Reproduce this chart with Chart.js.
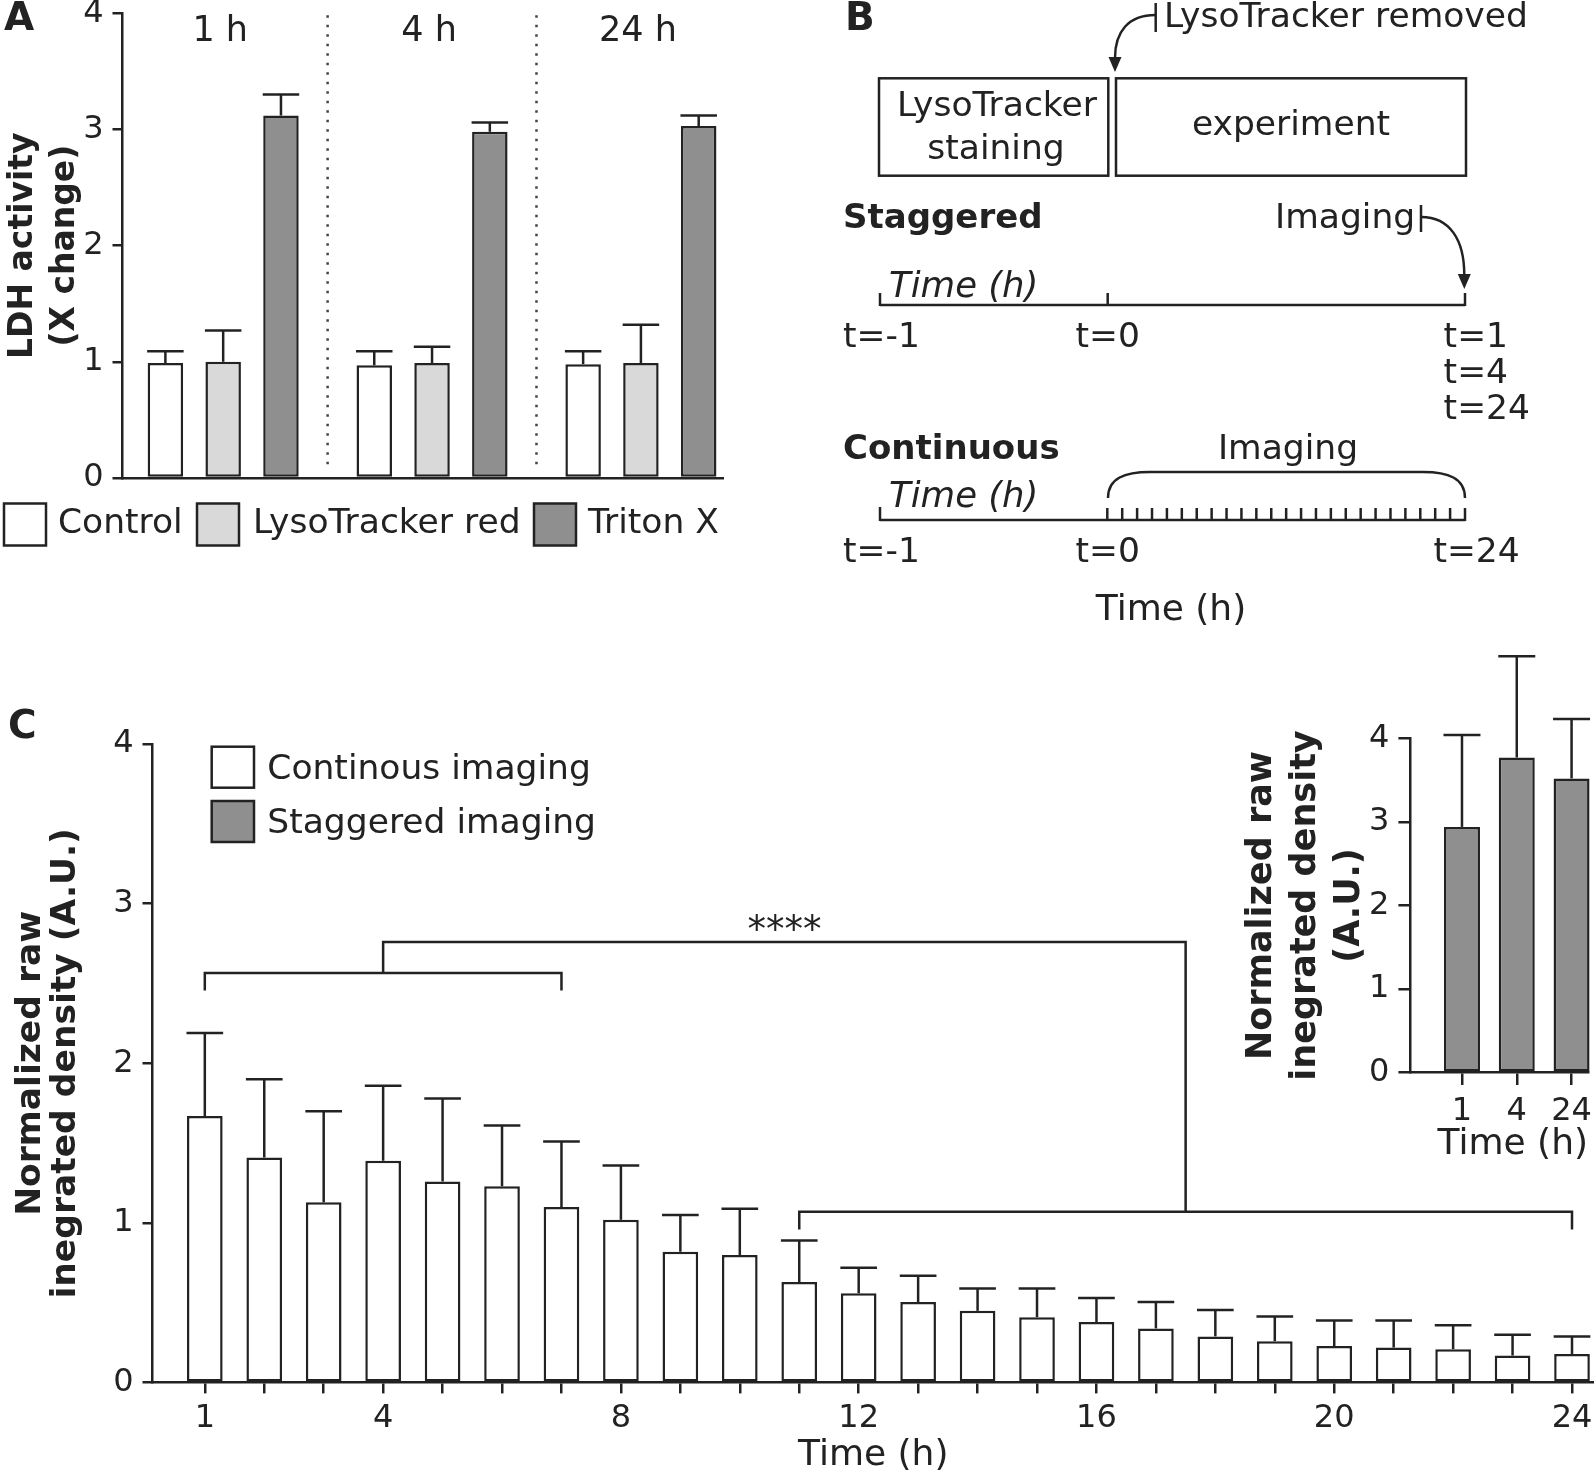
<!DOCTYPE html>
<html>
<head>
<meta charset="utf-8">
<script src="https://cdn.jsdelivr.net/npm/chart.js@4.4.1/dist/chart.umd.min.js"></script>
<style>
  html, body { margin: 0; padding: 0; background: #fff; }
  #page { position: relative; width: 1594px; height: 1472px; overflow: hidden; }
  canvas { position: absolute; }
</style>
</head>
<body>
<div id="page">
  <canvas id="panelA" width="760" height="570" style="left:0px;top:0px"></canvas>
  <canvas id="panelB" width="774" height="640" style="left:820px;top:0px"></canvas>
  <canvas id="panelC" width="1594" height="780" style="left:0px;top:700px"></canvas>
  <canvas id="inset" width="364" height="530" style="left:1230px;top:640px"></canvas>
</div>
<script>
// ---- data ----
var ldhGroups = ["1 h", "4 h", "24 h"];
var ldhSeries = ["Control", "LysoTracker red", "Triton X"];
var ldhControl = [0.99, 0.97, 0.98];
var ldhControlErr = [0.10, 0.12, 0.11];
var ldhLyso = [1.00, 0.99, 0.99];
var ldhLysoErr = [0.27, 0.14, 0.33];
var ldhTriton = [3.12, 2.98, 3.03];
var ldhTritonErr = [0.18, 0.08, 0.09];

var hours = [1, 2, 3, 4, 5, 6, 7, 8, 9, 10, 11, 12, 13, 14, 15, 16, 17, 18, 19, 20, 21, 22, 23, 24];
var hourLabels = [1, 4, 8, 12, 16, 20, 24];
var continuous = [1.67, 1.41, 1.13, 1.39, 1.26, 1.23, 1.10, 1.02, 0.82, 0.80, 0.63, 0.56,
                  0.505, 0.45, 0.41, 0.38, 0.34, 0.29, 0.26, 0.23, 0.22, 0.21, 0.17, 0.18];
var continuousErr = [0.52, 0.49, 0.57, 0.47, 0.52, 0.38, 0.41, 0.34, 0.23, 0.29, 0.26, 0.16,
                     0.165, 0.14, 0.18, 0.15, 0.165, 0.165, 0.155, 0.16, 0.17, 0.15, 0.13, 0.11];

var insetHours = ["1", "4", "24"];
var staggered = [2.94, 3.77, 3.52];
var staggeredErr = [1.10, 1.21, 0.71];

var yTicks = [0, 1, 2, 3, 4];
var legendC = ["Continous imaging", "Staggered imaging"];
// significance: first hours vs later hours
var bracketEarly = [1, 7];
var bracketLate = [11, 24];
var sigLabel = "****";

// ---- style ----
var ink = "#222222";
var white = "#ffffff";
var light = "#d9d9d9";
var dark = "#8f8f8f";
var FONT = '"DejaVu Sans"';
Chart.defaults.font.family = FONT;
Chart.defaults.color = ink;

function fixWidth(w) {
  return function (s) { s.width = w; s.paddingTop = 0; s.paddingBottom = 0; s.paddingLeft = 0; s.paddingRight = 0; };
}
function fixHeight(h) {
  return function (s) { s.height = h; s.paddingTop = 0; s.paddingBottom = 0; s.paddingLeft = 0; s.paddingRight = 0; };
}
function setTicks(list) {
  return function (s) { s.ticks = list.map(function (v) { return { value: v }; }); };
}
function pts(xs, ys) {
  return ys.map(function (v, i) { return { x: xs[i], y: v }; });
}
function txt(ctx, s, x, y, font, align) {
  ctx.font = font;
  ctx.textAlign = align || "left";
  ctx.textBaseline = "middle";
  ctx.fillStyle = ink;
  ctx.fillText(s, x, y);
}
function seg(ctx, x1, y1, x2, y2) {
  ctx.beginPath(); ctx.moveTo(x1, y1); ctx.lineTo(x2, y2); ctx.stroke();
}
function arrowDown(ctx, x, y) {
  ctx.beginPath(); ctx.moveTo(x, y); ctx.lineTo(x - 6.5, y - 15); ctx.lineTo(x + 6.5, y - 15); ctx.closePath(); ctx.fill();
}
function yAxis(title, size, lh, pad, width) {
  return {
    min: 0, max: 4,
    afterBuildTicks: setTicks(yTicks),
    ticks: { font: { size: 32 }, color: ink, padding: 9 },
    grid: { drawOnChartArea: false, color: ink, lineWidth: 2.5, tickLength: 10 },
    border: { color: ink, width: 2.5 },
    title: { display: true, text: title, color: ink, font: { size: size, weight: "bold", lineHeight: lh }, padding: { top: pad, bottom: 0 } },
    afterFit: fixWidth(width)
  };
}

var errorBars = {
  id: "errorBars",
  afterDatasetsDraw: function (chart) {
    var ctx = chart.ctx, y = chart.scales.y;
    ctx.save();
    ctx.strokeStyle = ink; ctx.lineWidth = 2.5;
    chart.data.datasets.forEach(function (ds, i) {
      if (!ds.errors) return;
      chart.getDatasetMeta(i).data.forEach(function (bar, j) {
        var top = y.getPixelForValue(ds.data[j].y + ds.errors[j]);
        var half = bar.width / 2 + 0.5;
        seg(ctx, bar.x, bar.y, bar.x, top);
        seg(ctx, bar.x - half, top, bar.x + half, top);
      });
    });
    ctx.restore();
  }
};

// ---- panel A ----
var groupX = ldhGroups.map(function (g, i) { return i + 1; });
var panelADecor = {
  id: "panelADecor",
  afterDraw: function (chart) {
    var ctx = chart.ctx, x = chart.scales.x, area = chart.chartArea;
    ctx.save();
    txt(ctx, "A", 4, 20, "bold 39px " + FONT);
    ldhGroups.forEach(function (g, i) {
      txt(ctx, g, x.getPixelForValue(groupX[i]) - 3, 32, "35px " + FONT, "center");
    });
    ctx.strokeStyle = "#444"; ctx.lineWidth = 2.5; ctx.setLineDash([2.5, 7]);
    for (var i = 0; i < ldhGroups.length - 1; i++) {
      var px = x.getPixelForValue(groupX[i] + 0.5);
      seg(ctx, px, area.top + 2, px, area.bottom - 8);
    }
    ctx.setLineDash([]);
    // legend
    var boxX = [4, 197, 534], textX = [58, 253, 588];
    ctx.strokeStyle = ink; ctx.lineWidth = 2.5;
    chart.data.datasets.forEach(function (ds, i) {
      ctx.fillStyle = ds.backgroundColor;
      ctx.fillRect(boxX[i], 503.5, 42, 42);
      ctx.strokeRect(boxX[i], 503.5, 42, 42);
      txt(ctx, ds.label, textX[i], 524, "34.5px " + FONT);
    });
    ctx.restore();
  }
};

new Chart(document.getElementById("panelA"), {
  type: "bar",
  data: {
    datasets: [
      { label: ldhSeries[0], data: pts(groupX, ldhControl), errors: ldhControlErr, backgroundColor: white },
      { label: ldhSeries[1], data: pts(groupX, ldhLyso), errors: ldhLysoErr, backgroundColor: light },
      { label: ldhSeries[2], data: pts(groupX, ldhTriton), errors: ldhTritonErr, backgroundColor: dark }
    ]
  },
  options: {
    responsive: false, animation: false,
    layout: { padding: { top: 13.3, right: 37, bottom: 0, left: 0 } },
    plugins: { legend: { display: false }, tooltip: { enabled: false } },
    datasets: { bar: { borderColor: ink, borderWidth: 2.5, borderSkipped: false, categoryPercentage: 0.83, barPercentage: 0.614 } },
    scales: {
      x: {
        type: "linear", offset: false, min: 0.518, max: 3.393,
        afterBuildTicks: setTicks(groupX),
        ticks: { display: false }, grid: { display: false, offset: false },
        border: { color: ink, width: 2.5 },
        afterFit: fixHeight(92)
      },
      y: yAxis(["LDH activity", "(X change)"], 33, 1.29, 2, 122.5)
    }
  },
  plugins: [errorBars, panelADecor]
});

// ---- panel B (schematic) ----
var schematic = {
  id: "schematic",
  afterDraw: function (chart) {
    var ctx = chart.ctx;
    var reg = "34.5px " + FONT, bold = "bold 34px " + FONT, ital = "italic 35.5px " + FONT;
    ctx.save();
    ctx.translate(-820, 0);
    ctx.strokeStyle = ink; ctx.fillStyle = ink; ctx.lineWidth = 2.5;
    txt(ctx, "B", 845, 20, "bold 39px " + FONT);

    seg(ctx, 1155.7, 3, 1155.7, 32);
    ctx.beginPath(); ctx.moveTo(1155.7, 15); ctx.bezierCurveTo(1128, 15, 1115, 32, 1115, 58); ctx.stroke();
    arrowDown(ctx, 1115, 72);
    txt(ctx, "LysoTracker removed", 1164, 18, reg);

    ctx.strokeRect(879, 78.3, 229.3, 97.4);
    ctx.strokeRect(1116, 78.3, 350, 97.4);
    txt(ctx, "LysoTracker", 997, 107, reg, "center");
    txt(ctx, "staining", 996, 150, reg, "center");
    txt(ctx, "experiment", 1291, 126, reg, "center");

    // staggered
    txt(ctx, "Staggered", 843, 219.5, bold);
    txt(ctx, "Imaging", 1275, 219.5, reg);
    seg(ctx, 1421, 205, 1421, 232);
    ctx.beginPath(); ctx.moveTo(1421, 217); ctx.bezierCurveTo(1450, 217, 1464.3, 240, 1464.3, 275); ctx.stroke();
    arrowDown(ctx, 1464.3, 289);
    seg(ctx, 880, 305, 1465, 305);
    [880, 1107.7, 1465].forEach(function (px) { seg(ctx, px, 306, px, 293); });
    txt(ctx, "Time (h)", 889, 287.5, ital);
    txt(ctx, "t=-1", 843, 338.5, reg);
    txt(ctx, "t=0", 1075.5, 338.5, reg);
    txt(ctx, "t=1", 1443.6, 338.5, reg);
    txt(ctx, "t=4", 1443.6, 374, reg);
    txt(ctx, "t=24", 1443.6, 410.5, reg);

    // continuous
    txt(ctx, "Continuous", 843, 450, bold);
    txt(ctx, "Imaging", 1288, 450, reg, "center");
    ctx.beginPath();
    ctx.moveTo(1108, 498);
    ctx.bezierCurveTo(1108, 478, 1125, 472, 1150, 472);
    ctx.lineTo(1423, 472);
    ctx.bezierCurveTo(1448, 472, 1465, 478, 1465, 498);
    ctx.stroke();
    seg(ctx, 880, 520, 1465, 520);
    seg(ctx, 880, 521, 880, 507);
    for (var i = 0; i <= 24; i++) {
      var px = 1107.3 + i * (1465 - 1107.3) / 24;
      seg(ctx, px, 521, px, 508);
    }
    txt(ctx, "Time (h)", 889, 498, ital);
    txt(ctx, "t=-1", 843, 553, reg);
    txt(ctx, "t=0", 1075.5, 553, reg);
    txt(ctx, "t=24", 1433.4, 553, reg);
    txt(ctx, "Time (h)", 1171, 611, "36px " + FONT, "center");
    ctx.restore();
  }
};

new Chart(document.getElementById("panelB"), {
  type: "scatter",
  data: { datasets: [] },
  options: {
    responsive: false, animation: false,
    plugins: { legend: { display: false }, tooltip: { enabled: false } },
    scales: { x: { display: false }, y: { display: false } }
  },
  plugins: [schematic]
});

// ---- panel C main ----
var panelCDecor = {
  id: "panelCDecor",
  afterDraw: function (chart) {
    var ctx = chart.ctx, x = chart.scales.x, y = chart.scales.y;
    ctx.save();
    txt(ctx, "C", 8, 28, "bold 39px " + FONT);
    // legend
    var fills = [white, dark], rows = [46.7, 101];
    ctx.strokeStyle = ink; ctx.lineWidth = 2.5;
    legendC.forEach(function (name, i) {
      ctx.fillStyle = fills[i];
      ctx.fillRect(211.7, rows[i], 42.3, 41);
      ctx.strokeRect(211.7, rows[i], 42.3, 41);
      txt(ctx, name, 267.3, rows[i] + 23, "34.5px " + FONT);
    });
    // brackets
    function bracket(range, level, legDrop) {
      var a = x.getPixelForValue(range[0]), b = x.getPixelForValue(range[1]);
      var yy = y.getPixelForValue(level), yl = y.getPixelForValue(level - legDrop);
      ctx.beginPath();
      ctx.moveTo(a, yl); ctx.lineTo(a, yy); ctx.lineTo(b, yy); ctx.lineTo(b, yl);
      ctx.stroke();
    }
    bracket(bracketEarly, 2.566, 0.11);
    bracket(bracketLate, 1.07, 0.11);
    var midE = (bracketEarly[0] + bracketEarly[1]) / 2;
    var midL = (bracketLate[0] + bracketLate[1]) / 2;
    var topY = y.getPixelForValue(2.76);
    ctx.beginPath();
    ctx.moveTo(x.getPixelForValue(midE), y.getPixelForValue(2.566));
    ctx.lineTo(x.getPixelForValue(midE), topY);
    ctx.lineTo(x.getPixelForValue(midL), topY);
    ctx.lineTo(x.getPixelForValue(midL), y.getPixelForValue(1.07));
    ctx.stroke();
    txt(ctx, sigLabel, x.getPixelForValue((midE + midL) / 2), y.getPixelForValue(2.82), "37px " + FONT, "center");
    ctx.restore();
  }
};

new Chart(document.getElementById("panelC"), {
  type: "bar",
  data: {
    datasets: [
      { label: legendC[0], data: pts(hours, continuous), errors: continuousErr, backgroundColor: white }
    ]
  },
  options: {
    responsive: false, animation: false,
    layout: { padding: { top: 44, right: 0, bottom: 0, left: 0 } },
    plugins: { legend: { display: false }, tooltip: { enabled: false } },
    datasets: { bar: { borderColor: ink, borderWidth: 2.5, borderSkipped: false, categoryPercentage: 1, barPercentage: 0.6 } },
    scales: {
      x: {
        type: "linear", offset: false, min: 0.12, max: 24.37,
        afterBuildTicks: setTicks(hours),
        ticks: {
          autoSkip: false, maxRotation: 0, font: { size: 32 }, color: ink, padding: 6,
          callback: function (v) { return hourLabels.indexOf(v) >= 0 ? String(v) : ""; }
        },
        grid: { offset: false, drawOnChartArea: false, color: ink, lineWidth: 2.5, tickLength: 10.7 },
        border: { color: ink, width: 2.5 },
        title: { display: true, text: "Time (h)", color: ink, font: { size: 36 }, padding: { top: 0, bottom: 3 } },
        afterFit: fixHeight(97.3)
      },
      y: yAxis(["Normalized raw", "inegrated density (A.U.)"], 34.5, 1.03, 13, 152.5)
    }
  },
  plugins: [errorBars, panelCDecor]
});

// ---- panel C inset ----
var insetX = insetHours.map(function (h, i) { return i + 1; });
new Chart(document.getElementById("inset"), {
  type: "bar",
  data: {
    datasets: [
      { label: legendC[1], data: pts(insetX, staggered), errors: staggeredErr, backgroundColor: dark, clip: false }
    ]
  },
  options: {
    responsive: false, animation: false,
    layout: { padding: { top: 98.3, right: 6, bottom: 0, left: 0 } },
    plugins: { legend: { display: false }, tooltip: { enabled: false } },
    datasets: { bar: { borderColor: ink, borderWidth: 2.5, borderSkipped: false, categoryPercentage: 1, barPercentage: 0.657 } },
    scales: {
      x: {
        type: "linear", offset: false, min: 0.064, max: 3.3,
        afterBuildTicks: setTicks(insetX),
        ticks: {
          autoSkip: false, maxRotation: 0, font: { size: 32 }, color: ink, padding: 7,
          callback: function (v) { return insetHours[v - 1]; }
        },
        grid: { offset: false, drawOnChartArea: false, color: ink, lineWidth: 2.5, tickLength: 12.3 },
        border: { color: ink, width: 2.5 },
        title: { display: true, text: "Time (h)", align: "end", color: ink, font: { size: 36 }, padding: { top: 0, bottom: 4 } },
        afterFit: fixHeight(97.3)
      },
      y: (function () {
        var a = yAxis(["Normalized raw", "inegrated density", "(A.U.)"], 35, 1.26, 10, 180.7);
        a.grid.tickLength = 12.3;
        return a;
      })()
    }
  },
  plugins: [errorBars]
});
</script>
</body>
</html>
